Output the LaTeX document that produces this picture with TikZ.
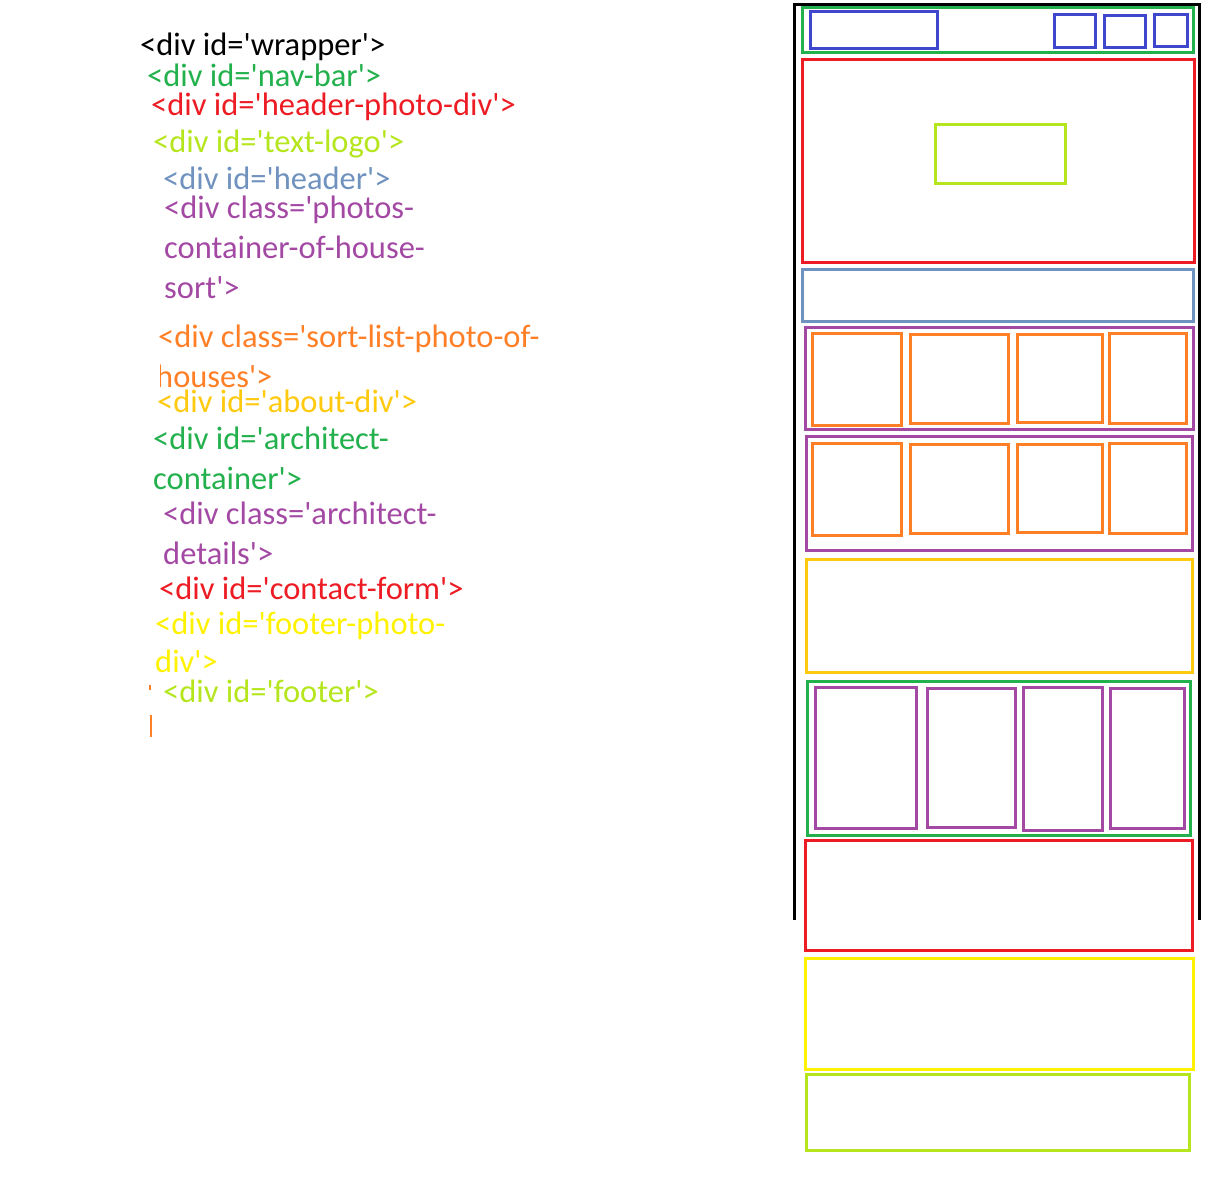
\documentclass[tikz,border=0pt]{standalone}
\usepackage{fontspec}
\setmainfont{Carlito}[Ligatures=TeXOff]
\definecolor{cgreen}{HTML}{22B14C}
\definecolor{cred}{HTML}{ED1C24}
\definecolor{clime}{HTML}{B5E61D}
\definecolor{cgray}{HTML}{7092BE}
\definecolor{cpurple}{HTML}{A349A4}
\definecolor{corange}{HTML}{FF7F27}
\definecolor{cgold}{HTML}{FFC90E}
\definecolor{cyellow}{HTML}{FFF200}
\definecolor{cblue}{HTML}{3F48CC}
\tikzset{
  lbl/.style={anchor=base west,inner sep=0pt,font=\fontsize{32.5}{36}\selectfont},
  box/.style={line width=3pt},
}
\begin{document}
\begin{tikzpicture}[x=1pt,y=-1pt]
\useasboundingbox[fill=white] (0,0) rectangle (1218,1199);
% ---- text ----
\node[lbl,text=black] (t1) at (140,56) {<div id='wrapper'>};
\node[lbl,text=cgreen] (t2) at (147,87) {<div id='nav-bar'>};
\node[lbl,text=cred] (t3) at (151,115) {<div id='header-photo-div'>};
\node[lbl,text=clime] (t4) at (153,152) {<div id='text-logo'>};
\node[lbl,text=cgray] (t5) at (163,189) {<div id='header'>};
\node[lbl,text=cpurple] (t6a) at (164,218) {<div class='photos-};
\node[lbl,text=cpurple] (t6b) at (164,258) {container-of-house-};
\node[lbl,text=cpurple] (t6c) at (164,298) {sort'>};
\node[lbl,text=corange] (t7a) at (158,347) {<div class='sort-list-photo-of-};
\begin{scope}
\clip (160,352) rectangle (400,394);
\node[lbl,text=corange] (t7b) at (156,387) {houses'>};
\end{scope}
\node[lbl,text=cgold] (t8) at (157,412) {<div id='about-div'>};
\node[lbl,text=cgreen] (t9a) at (153,449) {<div id='architect-};
\node[lbl,text=cgreen] (t9b) at (153,489) {container'>};
\node[lbl,text=cpurple] (t10a) at (163,524) {<div class='architect-};
\node[lbl,text=cpurple] (t10b) at (163,564) {details'>};
\node[lbl,text=cred] (t11) at (159,599) {<div id='contact-form'>};
\node[lbl,text=cyellow] (t12a) at (155,634) {<div id='footer-photo-};
\node[lbl,text=cyellow] (t12b) at (155,672) {div'>};
\node[lbl,text=clime] (t13) at (163,702) {<div id='footer'>};
% stray marks
\draw[corange,line width=1.5pt] (150,685) -- (150,690);
\draw[corange,line width=1.5pt] (151,715) -- (151,737);
% ---- wrapper ----
\draw[line width=3pt,black] (794.5,920) -- (794.5,4.5) -- (1199.5,4.5) -- (1199.5,920);
% nav bar
\draw[box,cgreen] (802,8) rectangle (1193,53);
\draw[box,cblue] (810,11.5) rectangle (937,48.5);
\draw[box,cblue] (1054.5,14.5) rectangle (1095.5,47.5);
\draw[box,cblue] (1104.5,15.5) rectangle (1145.5,47.5);
\draw[box,cblue] (1154.5,14.5) rectangle (1187.5,46.5);
% header photo
\draw[box,cred] (802,60) rectangle (1194,262);
\draw[box,clime] (935,124) rectangle (1065,183);
% header
\draw[box,cgray] (802,269) rectangle (1193,321);
% photos rows
\draw[box,cpurple] (805,327) rectangle (1193,429);
\draw[box,corange] (812.5,333.5) rectangle (901.5,425.5);
\draw[box,corange] (910.5,334.5) rectangle (1008.5,423.5);
\draw[box,corange] (1017.5,334.5) rectangle (1102.5,422.5);
\draw[box,corange] (1109.5,333.5) rectangle (1186.5,423.5);
\draw[box,cpurple] (806,436) rectangle (1192,550);
\draw[box,corange] (812.5,443.5) rectangle (901.5,535.5);
\draw[box,corange] (910.5,444.5) rectangle (1008.5,533.5);
\draw[box,corange] (1017.5,444.5) rectangle (1102.5,532.5);
\draw[box,corange] (1109.5,443.5) rectangle (1186.5,533.5);
% about
\draw[box,cgold] (806.5,559.5) rectangle (1192.5,672.5);
% architect container
\draw[box,cgreen] (807,681) rectangle (1190,835.5);
\draw[box,cpurple] (815.5,687.5) rectangle (916.5,828.5);
\draw[box,cpurple] (927.5,688.5) rectangle (1015.5,827.5);
\draw[box,cpurple] (1023.5,687.5) rectangle (1102.5,830.5);
\draw[box,cpurple] (1110.5,688.5) rectangle (1184.5,828.5);
% contact
\draw[box,cred] (805.5,840.5) rectangle (1192.5,950);
% footer photo
\draw[box,cyellow] (805.5,958) rectangle (1193.5,1069);
% footer
\draw[box,clime] (806.5,1074.5) rectangle (1189.5,1150);
\end{tikzpicture}
\end{document}
